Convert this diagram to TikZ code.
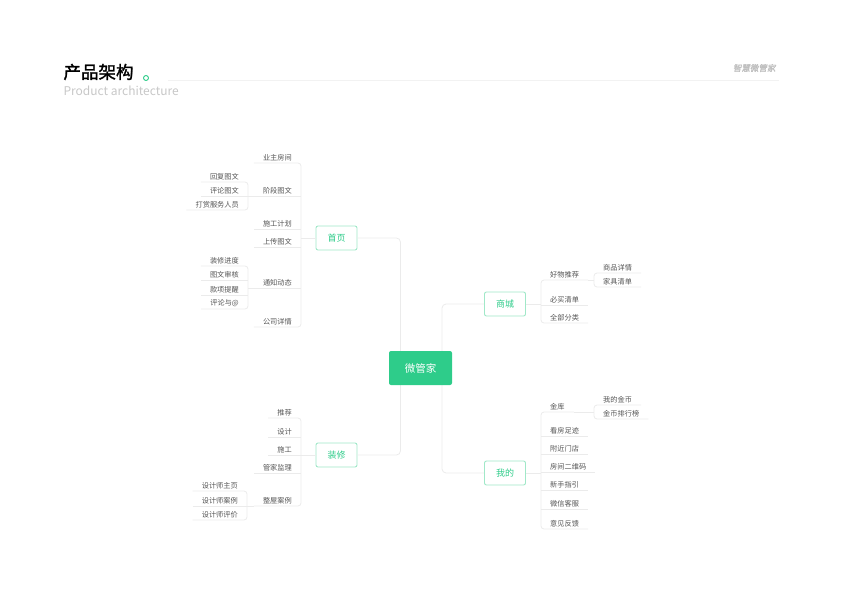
\documentclass[tikz,border=0pt]{standalone}
\usepackage{fontspec}
\setmainfont{Noto Sans CJK SC}
\newfontfamily\slantfont[FakeSlant=0.2,FakeBold=1.5]{Noto Sans CJK SC}
\newfontfamily\heavyfont[FakeBold=1.6]{Noto Sans CJK SC}
\usepackage{xcolor}
\usepackage{tikz}

\definecolor{mint}{RGB}{46,204,138}
\definecolor{mintline}{RGB}{160,232,200}
\definecolor{faint}{RGB}{235,235,235}
\definecolor{leaftext}{RGB}{85,85,85}

\begin{document}
\begin{tikzpicture}[x=1pt, y=-1pt,
    ln/.style={faint, line width=0.8pt},
    leaf/.style={font=\fontsize{7.2}{8}\selectfont, text=leaftext, inner xsep=9pt, inner ysep=2pt},
    section/.style={draw=mintline, line width=0.9pt, fill=white, rounded corners=2pt, text=mint,
        font=\fontsize{9}{10}\selectfont, minimum width=41pt, minimum height=24pt, inner sep=0pt},
    hub/.style={fill=mint, rounded corners=2pt, text=white, font=\fontsize{10.5}{12}\selectfont,
        minimum width=63pt, minimum height=34pt, inner sep=0pt}]
    \useasboundingbox (0,0) rectangle (842,600);

    % Header
    \node[anchor=west, font=\fontsize{17.5}{18}\selectfont\heavyfont] (title) at (60,72) {产品架构};
    \node[circle, draw=mint, line width=0.9pt, inner sep=0pt, minimum size=5pt] (dot) at (146,78) {};
    \node[anchor=west, text=black!22, font=\fontsize{12}{13}\selectfont] (subtitle) at (60,91) {Product architecture};
    \node[anchor=east, text=black!25, font=\fontsize{8.5}{9}\selectfont] (brand) at (779,68) {\slantfont 智慧微管家};
    \draw[black!5, line width=0.8pt] (168,80.5) -- (779,80.5);

    % Sections
    \node[section] (shouye) at (336.5,238) {首页};
    \node[section] (zhuangxiu) at (336.5,455) {装修};
    \node[section] (shangcheng) at (505,304) {商城};
    \node[section] (wode) at (505,473) {我的};

    % 首页 branch
    \node[leaf, anchor=south east] (yzfj) at (301,163) {业主房间};
    \node[leaf, anchor=south east] (jdtw) at (301,196) {阶段图文};
    \node[leaf, anchor=south east] (sgjh) at (301,229) {施工计划};
    \node[leaf, anchor=south east] (sctw) at (301,247) {上传图文};
    \node[leaf, anchor=south east] (tzdt) at (301,288) {通知动态};
    \node[leaf, anchor=south east] (gsxq) at (301,327) {公司详情};
    \draw[ln, rounded corners=3pt] (yzfj.south west) -- (yzfj.south east) |- (gsxq.south west);
    \foreach \n in {jdtw, sgjh, sctw, tzdt}
        \draw[ln] (\n.south west) -- (\n.south east);
    \draw[ln] (shouye.west) -- (shouye.west -| yzfj.south east);

    \node[leaf, anchor=south east] (hftw) at (248,182) {回复图文};
    \node[leaf, anchor=south east] (pltw) at (248,196) {评论图文};
    \node[leaf, anchor=south east] (dsfw) at (248,210) {打赏服务人员};
    \draw[ln, rounded corners=3pt] (hftw.south west) -- (hftw.south east) |- (dsfw.south west);
    \draw[ln] (pltw.south west) -- (pltw.south east);
    \draw[ln] (jdtw.south west) -- (jdtw.south -| hftw.south east);

    \node[leaf, anchor=south east] (zxjd) at (248,266) {装修进度};
    \node[leaf, anchor=south east] (twsh) at (248,280) {图文审核};
    \node[leaf, anchor=south east] (kxtx) at (248,295) {款项提醒};
    \node[leaf, anchor=south east] (plyu) at (248,309) {评论与@};
    \draw[ln, rounded corners=3pt] (zxjd.south west) -- (zxjd.south east) |- (plyu.south west);
    \foreach \n in {twsh, kxtx}
        \draw[ln] (\n.south west) -- (\n.south east);
    \draw[ln] (tzdt.south west) -- (tzdt.south -| zxjd.south east);

    % 装修 branch
    \node[leaf, anchor=south east] (tj) at (301,418) {推荐};
    \node[leaf, anchor=south east] (sj) at (301,437) {设计};
    \node[leaf, anchor=south east] (sg) at (301,455) {施工};
    \node[leaf, anchor=south east] (gjjl) at (301,473) {管家监理};
    \node[leaf, anchor=south east] (zwal) at (301,506) {整屋案例};
    \draw[ln, rounded corners=3pt] (tj.south west) -- (tj.south east) |- (zwal.south west);
    \foreach \n in {sj, sg, gjjl}
        \draw[ln] (\n.south west) -- (\n.south east);
    \draw[ln] (zhuangxiu.west) -- (zhuangxiu.west -| tj.south east);

    \node[leaf, anchor=south east] (sjzy) at (247,491) {设计师主页};
    \node[leaf, anchor=south east] (sjal) at (247,506) {设计师案例};
    \node[leaf, anchor=south east] (sjpj) at (247,520) {设计师评价};
    \draw[ln, rounded corners=3pt] (sjzy.south west) -- (sjzy.south east) |- (sjpj.south west);
    \draw[ln] (sjal.south west) -- (sjal.south east);
    \draw[ln] (zwal.south west) -- (zwal.south -| sjzy.south east);

    % 商城 branch
    \node[leaf, anchor=south west] (hwtj) at (541,280) {好物推荐};
    \node[leaf, anchor=south west] (bmqd) at (541,305) {必买清单};
    \node[leaf, anchor=south west] (qbfl) at (541,323) {全部分类};
    \draw[ln, rounded corners=3pt] (hwtj.south east) -- (hwtj.south west) |- (qbfl.south east);
    \draw[ln] (bmqd.south west) -- (bmqd.south east);
    \draw[ln] (shangcheng.east) -- (shangcheng.east -| hwtj.south west);

    \node[leaf, anchor=south west] (spxq) at (594,273) {商品详情};
    \node[leaf, anchor=south west] (jjqd) at (594,287) {家具清单};
    \draw[ln, rounded corners=3pt] (spxq.south east) -- (spxq.south west) |- (jjqd.south east);
    \draw[ln] (hwtj.south east) -- (hwtj.south -| spxq.south west);

    % 我的 branch
    \node[leaf, anchor=south west] (jk) at (541,412) {金库};
    \node[leaf, anchor=south west] (kfzj) at (541,436) {看房足迹};
    \node[leaf, anchor=south west] (fjmd) at (541,454) {附近门店};
    \node[leaf, anchor=south west] (fjewm) at (541,472) {房间二维码};
    \node[leaf, anchor=south west] (xszy) at (541,490) {新手指引};
    \node[leaf, anchor=south west] (wxkf) at (541,509) {微信客服};
    \node[leaf, anchor=south west] (yjfk) at (541,529) {意见反馈};
    \draw[ln, rounded corners=3pt] (jk.south east) -- (jk.south west) |- (yjfk.south east);
    \foreach \n in {kfzj, fjmd, fjewm, xszy, wxkf}
        \draw[ln] (\n.south west) -- (\n.south east);
    \draw[ln] (wode.east) -- (wode.east -| jk.south west);

    \node[leaf, anchor=south west] (wdjb) at (594,405) {我的金币};
    \node[leaf, anchor=south west] (jbph) at (594,419) {金币排行榜};
    \draw[ln, rounded corners=3pt] (wdjb.south east) -- (wdjb.south west) |- (jbph.south east);
    \draw[ln] (jk.south east) -- (jk.south -| wdjb.south west);

    % Trunk
    \draw[ln, rounded corners=4pt] (shouye.east) -- ++(43,0) |- (zhuangxiu.east);
    \draw[ln, rounded corners=4pt] (shangcheng.west) -- ++(-42,0) |- (wode.west);
    \node[hub] (hub) at (420.5,368) {微管家};
\end{tikzpicture}
\end{document}
